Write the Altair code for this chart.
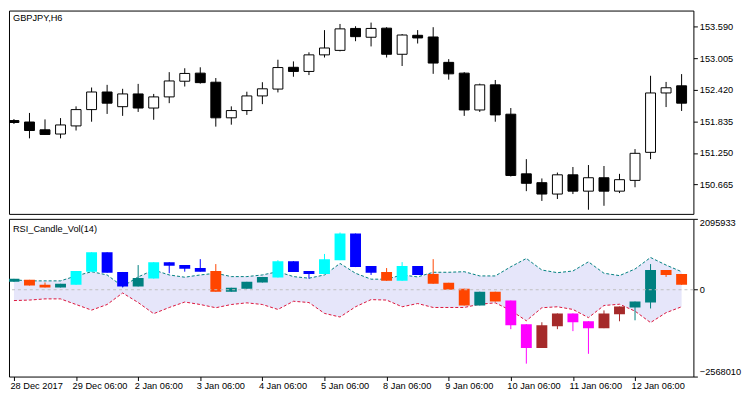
import altair as alt
import pandas as pd

# ---------------- data ----------------
bar_index = list(range(44))

price_open = [151.849, 151.822, 151.678, 151.600, 151.750, 152.052, 152.378, 152.106, 152.342, 152.081,
              152.287, 152.577, 152.727, 152.559, 151.900, 152.034, 152.305, 152.432, 152.835, 152.758,
              153.065, 153.148, 153.554, 153.391, 153.559, 153.076, 153.427, 153.396, 152.926, 152.727,
              152.045, 152.510, 151.967, 150.863, 150.700, 150.489, 150.845, 150.543, 150.791, 150.543,
              150.742, 151.261, 152.360, 152.492]
price_high = [151.877, 151.990, 151.871, 151.895, 152.112, 152.461, 152.510, 152.437, 152.528, 152.342,
              152.745, 152.817, 152.835, 152.636, 152.112, 152.383, 152.559, 152.975, 152.944, 153.112,
              153.523, 153.637, 153.595, 153.662, 153.577, 153.451, 153.523, 153.577, 152.986, 152.745,
              152.533, 152.600, 152.081, 151.135, 150.778, 150.887, 150.990, 151.026, 151.008, 150.863,
              151.321, 152.678, 152.564, 152.709]
price_low = [151.786, 151.520, 151.592, 151.520, 151.665, 151.828, 151.972, 151.936, 152.009, 151.864,
             152.171, 152.479, 152.533, 151.737, 151.773, 151.954, 152.153, 152.370, 152.660, 152.691,
             153.016, 153.130, 153.318, 153.221, 153.016, 152.859, 153.275, 152.714, 152.606, 151.936,
             152.009, 151.828, 150.814, 150.543, 150.362, 150.398, 150.489, 150.199, 150.272, 150.507,
             150.615, 151.135, 152.099, 152.027]
price_close = [151.813, 151.665, 151.592, 151.768, 152.052, 152.378, 152.171, 152.342, 152.081, 152.287,
               152.582, 152.721, 152.551, 151.900, 152.034, 152.305, 152.437, 152.830, 152.758, 153.065,
               153.192, 153.546, 153.402, 153.554, 153.076, 153.432, 153.378, 152.913, 152.714, 152.045,
               152.510, 151.954, 150.833, 150.688, 150.489, 150.845, 150.543, 150.791, 150.543, 150.755,
               151.243, 152.360, 152.456, 152.171]

vol_open = [321000, 292000, 146000, 175000, 554000, 1108000, 1108000, 525000, 350000, 816000,
            816000, 729000, 641000, 554000, 58000, 233000, 379000, 845000, 845000, 554000,
            904000, 1662000, 1662000, 700000, 525000, 700000, 700000, 466000, 204000, 29000,
            -58000, -58000, -321000, -1020000, -1049000, -700000, -700000, -933000, -700000, -496000,
            -350000, 583000, 583000, 466000]
vol_close = [233000, 125000, 67000, 67000, 146000, 533000, 504000, 96000, 96000, 329000,
             708000, 621000, 533000, -58000, -58000, 29000, 213000, 359000, 525000, 466000,
             466000, 875000, 670000, 504000, 262000, 262000, 437000, 175000, 0, -466000,
             -466000, -350000, -1049000, -1720000, -1720000, -1079000, -962000, -1137000, -1137000, -729000,
             -525000, -379000, 437000, 146000]
vol_high = [321000, 292000, 213000, 175000, 554000, 1108000, 1108000, 525000, 729000, 816000,
            816000, 729000, 904000, 758000, 58000, 233000, 379000, 875000, 845000, 554000,
            1058000, 1691000, 1662000, 700000, 641000, 816000, 700000, 904000, 204000, 29000,
            -58000, -58000, -321000, -1020000, -962000, -700000, -700000, -933000, -612000, -496000,
            -350000, 758000, 583000, 466000]
vol_low = [233000, 125000, 67000, 67000, 146000, 533000, 504000, 67000, 96000, 329000,
           487000, 533000, 533000, -58000, -58000, 29000, 213000, 359000, 525000, 329000,
           466000, 875000, 670000, 437000, 262000, 262000, 437000, 175000, 0, -466000,
           -466000, -350000, -1166000, -2186000, -1720000, -1166000, -1224000, -1895000, -1137000, -933000,
           -904000, -554000, 379000, 146000]
vol_state = ["mid_up", "mid_dn", "mid_dn", "mid_up", "hi_up", "hi_up", "hi_dn", "hi_dn", "mid_up", "hi_up",
             "hi_dn", "hi_dn", "hi_dn", "mid_dn", "mid_up", "mid_up", "mid_up", "hi_up", "hi_dn", "hi_dn",
             "hi_up", "hi_up", "hi_dn", "hi_dn", "mid_dn", "hi_up", "hi_dn", "mid_dn", "mid_dn", "mid_dn",
             "mid_up", "mid_dn", "lo_dn", "lo_dn", "lo_up", "lo_up", "lo_dn", "lo_dn", "lo_up", "lo_up",
             "mid_up", "mid_up", "mid_dn", "mid_dn"]

band_upper = [292000, 262000, 262000, 262000, 408000, 533000, 437000, 96000, 379000, 583000,
              437000, 370000, 437000, 487000, 388000, 388000, 437000, 533000, 388000, 341000,
              437000, 778000, 487000, 312000, 312000, 437000, 379000, 516000, 516000, 533000,
              408000, 408000, 679000, 924000, 583000, 504000, 554000, 825000, 487000, 417000,
              612000, 953000, 729000, 533000]
band_lower = [-321000, -306000, -271000, -271000, -437000, -603000, -437000, -96000, -379000, -708000,
              -525000, -364000, -437000, -533000, -437000, -388000, -437000, -583000, -341000, -379000,
              -700000, -807000, -504000, -292000, -306000, -504000, -408000, -525000, -525000, -525000,
              -429000, -388000, -612000, -918000, -533000, -504000, -583000, -825000, -466000, -429000,
              -633000, -971000, -679000, -504000]

price_ticks = [150.665, 151.250, 151.835, 152.420, 153.005, 153.590]
price_domain = [150.122, 153.885]
vol_ticks = [-2568010, 0, 2095933]
time_tick_index = [0, 4, 8, 12, 16, 20, 24, 28, 32, 36, 40]
time_tick_labels = ["28 Dec 2017", "29 Dec 06:00", "2 Jan 06:00", "3 Jan 06:00", "4 Jan 06:00",
                    "5 Jan 06:00", "8 Jan 06:00", "9 Jan 06:00", "10 Jan 06:00", "11 Jan 06:00",
                    "12 Jan 06:00"]
top_title = "GBPJPY,H6"
bottom_title = "RSI_Candle_Vol(14)"

# ---------------- chart ----------------
FONT = "Liberation Sans"
FS = 9.3
W, H1, H2 = 690, 205, 159
x_domain = [0, 43.44]

price_df = pd.DataFrame({"i": bar_index, "open": price_open, "high": price_high,
                         "low": price_low, "close": price_close})
price_df["dir"] = ["up" if c >= o else "down" for o, c in zip(price_open, price_close)]

vol_df = pd.DataFrame({"i": bar_index, "open": vol_open, "close": vol_close,
                       "high": vol_high, "low": vol_low, "state": vol_state})
band_df = pd.DataFrame({"i": bar_index, "upper": band_upper, "lower": band_lower})

xs = alt.Scale(domain=x_domain, nice=False, zero=False)
ys1 = alt.Scale(domain=price_domain, nice=False, zero=False)
ys2 = alt.Scale(domain=[vol_ticks[0], vol_ticks[-1]], nice=False, zero=False)

axis_common = dict(tickSize=4, tickColor="black", labelColor="black", labelFont=FONT,
                   labelFontSize=FS, domain=False, grid=False, title=None)

y_axis_top = alt.Axis(orient="right", values=price_ticks, format=".3f", labelPadding=2, **axis_common)
y_axis_bot = alt.Axis(orient="right", values=vol_ticks, format="d", labelPadding=2,
                      labelFlush=True, **axis_common)

label_arr = "[" + ",".join("'" + s + "'" for s in time_tick_labels) + "]"
x_axis_bot = alt.Axis(values=time_tick_index, labelExpr=label_arr + "[datum.value/4]",
                      labelAlign="left", labelOffset=-4, labelPadding=1, labelFlush=False,
                      labelOverlap=False, **axis_common)

# top panel: price candles
pbase = alt.Chart(price_df)
wicks = pbase.mark_rule(color="black", strokeWidth=1, clip=True).encode(
    x=alt.X("i:Q", scale=xs, axis=None),
    y=alt.Y("low:Q", scale=ys1, axis=y_axis_top),
    y2="high:Q")
bodies = pbase.mark_bar(size=10, stroke="black", strokeWidth=1, clip=True).encode(
    x=alt.X("i:Q", scale=xs, axis=None),
    y=alt.Y("open:Q", scale=ys1),
    y2="close:Q",
    fill=alt.Fill("dir:N", scale=alt.Scale(domain=["up", "down"], range=["white", "black"]), legend=None))
ttl1 = alt.Chart(pd.DataFrame({"t": [top_title]})).mark_text(
    align="left", baseline="alphabetic", font=FONT, fontSize=FS, color="black").encode(
    text="t:N", x=alt.value(4), y=alt.value(11))
top = alt.layer(wicks, bodies, ttl1).properties(width=W, height=H1)

# bottom panel: indicator
state_scale = alt.Scale(domain=["hi_up", "hi_dn", "mid_up", "mid_dn", "lo_up", "lo_dn"],
                        range=["#00FFFF", "#0000FF", "#008080", "#FF4500", "#A52A2A", "#FF00FF"])
band = alt.Chart(band_df).mark_area(color="#E6E6FA", opacity=1, clip=True).encode(
    x=alt.X("i:Q", scale=xs, axis=x_axis_bot),
    y=alt.Y("upper:Q", scale=ys2, axis=y_axis_bot),
    y2="lower:Q")
up_line = alt.Chart(band_df).mark_line(color="#008080", strokeWidth=1, strokeDash=[3, 2], clip=True).encode(
    x=alt.X("i:Q", scale=xs), y=alt.Y("upper:Q", scale=ys2))
lo_line = alt.Chart(band_df).mark_line(color="#DC143C", strokeWidth=1, strokeDash=[3, 2], clip=True).encode(
    x=alt.X("i:Q", scale=xs), y=alt.Y("lower:Q", scale=ys2))
vbase = alt.Chart(vol_df)
vwicks = vbase.mark_rule(strokeWidth=1, clip=True).encode(
    x=alt.X("i:Q", scale=xs), y=alt.Y("low:Q", scale=ys2), y2="high:Q",
    color=alt.Color("state:N", scale=state_scale, legend=None))
vbodies = vbase.mark_bar(size=11, clip=True).encode(
    x=alt.X("i:Q", scale=xs), y=alt.Y("open:Q", scale=ys2), y2="close:Q",
    color=alt.Color("state:N", scale=state_scale, legend=None))
zero_line = alt.Chart(pd.DataFrame({"z": [0]})).mark_rule(color="#C0C0C0", strokeWidth=1,
                                                          strokeDash=[3, 3]).encode(
    y=alt.Y("z:Q", scale=ys2))
ttl2 = alt.Chart(pd.DataFrame({"t": [bottom_title]})).mark_text(
    align="left", baseline="alphabetic", font=FONT, fontSize=FS, color="black").encode(
    text="t:N", x=alt.value(4), y=alt.value(13))
bottom = alt.layer(band, up_line, lo_line, vwicks, vbodies, zero_line, ttl2).properties(width=W, height=H2)

chart = alt.vconcat(top, bottom, spacing=3).properties(
    padding={"left": 0, "top": 0, "right": 0, "bottom": 0}, background="white"
).configure_view(stroke="black", strokeWidth=1)

chart.save("out.html", embed_options={"renderer": "svg", "actions": False})
